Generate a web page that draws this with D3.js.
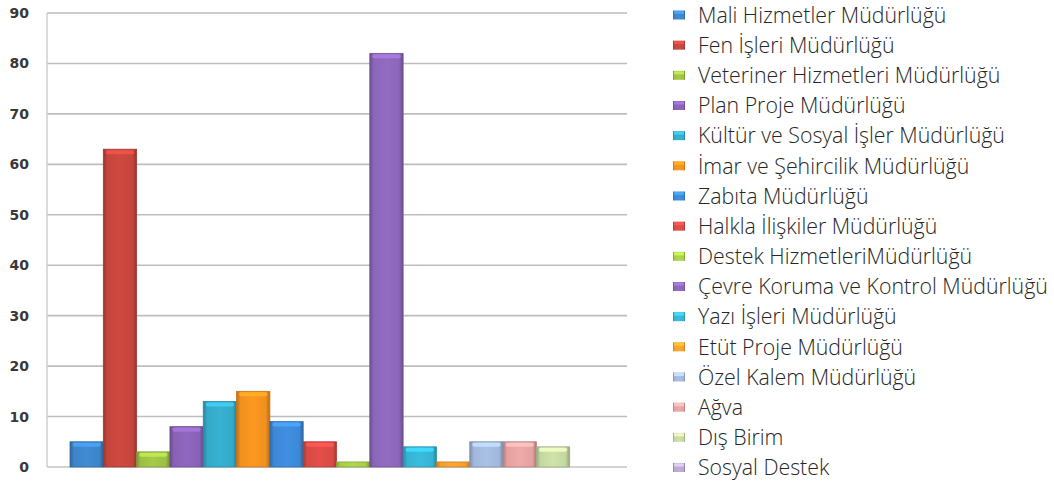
<!DOCTYPE html>
<html>
<head>
<meta charset="utf-8">
<script src="https://cdn.jsdelivr.net/npm/d3@7"></script>
<style>
  html, body { margin: 0; padding: 0; background: #fff; }
  svg { display: block; }
</style>
</head>
<body>
<svg id="chart" width="1054" height="488"></svg>
<script>
// Departments (series) and their counts
const departments = [
  "Mali Hizmetler Müdürlüğü",
  "Fen İşleri Müdürlüğü",
  "Veteriner Hizmetleri Müdürlüğü",
  "Plan Proje Müdürlüğü",
  "Kültür ve Sosyal İşler Müdürlüğü",
  "İmar ve Şehircilik Müdürlüğü",
  "Zabıta Müdürlüğü",
  "Halkla İlişkiler Müdürlüğü",
  "Destek HizmetleriMüdürlüğü",
  "Çevre Koruma ve Kontrol Müdürlüğü",
  "Yazı İşleri Müdürlüğü",
  "Etüt Proje Müdürlüğü",
  "Özel Kalem Müdürlüğü",
  "Ağva",
  "Dış Birim",
  "Sosyal Destek"
];
const counts = [5, 63, 3, 8, 13, 15, 9, 5, 1, 82, 4, 1, 5, 5, 4, 0];
const colors = [
  "#3d84c8", "#c4453c", "#9cc044", "#8862b6", "#34a9c8", "#f0901f",
  "#3d88d6", "#d84a45", "#a6cd48", "#8b66b8", "#36b3d3", "#f39f30",
  "#a1b7db", "#e3a1a0", "#c4d7a0", "#b6a7cb"
];
const yTicks = [0, 10, 20, 30, 40, 50, 60, 70, 80, 90];

const svg = d3.select("#chart");
const plot = { left: 47, right: 627, top: 13, bottom: 467 };

const y = d3.scaleLinear().domain([0, 90]).range([plot.bottom, plot.top]);
const x = d3.scaleBand()
  .domain(d3.range(departments.length))
  .range([plot.left + 23, plot.right - 24])
  .paddingInner(0);

// gradients for the bevelled bar look
const defs = svg.append("defs");
colors.forEach((c, i) => {
  const g = defs.append("linearGradient")
    .attr("id", "grad" + i)
    .attr("x1", "0%").attr("x2", "100%").attr("y1", "0%").attr("y2", "0%");
  const base = d3.color(c);
  g.append("stop").attr("offset", "0%").attr("stop-color", base.darker(0.7));
  g.append("stop").attr("offset", "12%").attr("stop-color", base);
  g.append("stop").attr("offset", "50%").attr("stop-color", base.brighter(0.15));
  g.append("stop").attr("offset", "88%").attr("stop-color", base);
  g.append("stop").attr("offset", "100%").attr("stop-color", base.darker(0.8));
});

// gridlines
svg.append("g")
  .selectAll("line")
  .data(yTicks)
  .join("line")
  .attr("x1", plot.left).attr("x2", plot.right)
  .attr("y1", d => y(d)).attr("y2", d => y(d))
  .attr("stroke", d => d === 0 ? "#c4c4c4" : "#bdbdbd")
  .attr("stroke-width", 1.6);

// vertical axis line
svg.append("line")
  .attr("x1", plot.left).attr("x2", plot.left)
  .attr("y1", plot.top).attr("y2", plot.bottom)
  .attr("stroke", "#cfcfcf").attr("stroke-width", 1.5);

// y axis tick labels
const yAxis = d3.axisLeft(y).tickValues(yTicks).tickSize(0).tickPadding(0);
const yg = svg.append("g").attr("transform", `translate(29,0)`).call(yAxis);
yg.select(".domain").remove();
yg.selectAll("text")
  .attr("font-family", "DejaVu Sans, sans-serif")
  .attr("font-size", 14)
  .attr("font-weight", "bold")
  .attr("fill", "#383838");

// bars
const bars = svg.append("g")
  .selectAll("g")
  .data(counts.map((v, i) => ({ v, i })))
  .join("g");

bars.append("rect")
  .attr("x", d => x(d.i))
  .attr("width", x.bandwidth())
  .attr("y", d => y(d.v))
  .attr("height", d => y(0) - y(d.v))
  .attr("fill", d => `url(#grad${d.i})`)
  .attr("stroke", d => d3.color(colors[d.i]).darker(0.6))
  .attr("stroke-width", d => d.v > 0 ? 0.8 : 0);

// top highlight on each bar
bars.filter(d => d.v >= 2)
  .append("rect")
  .attr("x", d => x(d.i) + 2.5)
  .attr("width", x.bandwidth() - 5)
  .attr("y", d => y(d.v) + 1)
  .attr("height", 4)
  .attr("rx", 2)
  .attr("fill", d => d3.color(colors[d.i]).brighter(0.6))
  .attr("opacity", 0.85);

// legend
const legendY = d3.scalePoint()
  .domain(d3.range(departments.length))
  .range([15, 467.5]);

const legend = svg.append("g")
  .selectAll("g")
  .data(departments.map((name, i) => ({ name, i })))
  .join("g")
  .attr("transform", d => `translate(673,${legendY(d.i)})`);

legend.append("rect")
  .attr("x", 0).attr("y", -4.5)
  .attr("width", 12).attr("height", 9)
  .attr("fill", d => `url(#grad${d.i})`);
legend.append("rect")
  .attr("x", 1).attr("y", -4)
  .attr("width", 10).attr("height", 3)
  .attr("fill", d => d3.color(colors[d.i]).brighter(0.7))
  .attr("opacity", 0.8);

legend.append("text")
  .attr("x", 25)
  .attr("y", 0)
  .attr("dy", "0.36em")
  .attr("font-family", "Open Sans, sans-serif")
  .attr("font-size", 21.3)
  .attr("font-weight", 300)
  .attr("fill", "#262626")
  .text(d => d.name);
</script>
</body>
</html>
